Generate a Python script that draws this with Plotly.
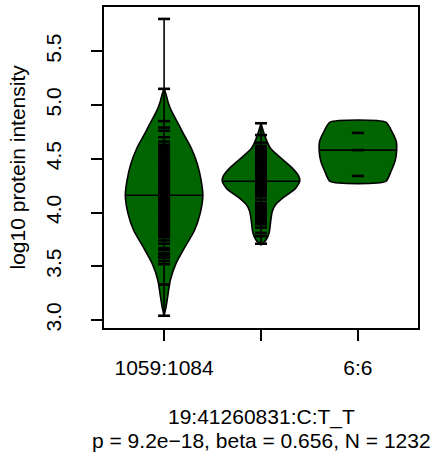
import numpy as np
import plotly.graph_objects as go

# groups (genotype counts); the middle label is dropped in the source plot
group_labels = ["1059:1084", "", "6:6"]
group_pos = [1, 2, 3]

# density outline of each bean: level (log10 intensity) and relative half-width
bean1_level = [5.156, 5.10, 5.03, 4.97, 4.91, 4.85, 4.76, 4.68, 4.60, 4.45, 4.29, 4.16,
               3.99, 3.83, 3.68, 3.52, 3.37, 3.21, 3.12, 3.04]
bean1_width = [0.0, 0.05, 0.10, 0.16, 0.24, 0.33, 0.46, 0.58, 0.70, 0.86, 0.96, 1.0,
               0.93, 0.78, 0.54, 0.30, 0.16, 0.09, 0.05, 0.0]

bean2_level = [4.83, 4.71, 4.60, 4.51, 4.42, 4.34, 4.29, 4.22, 4.14, 4.07, 4.01,
               3.92, 3.83, 3.78, 3.74, 3.70]
bean2_width = [0.0, 0.10, 0.24, 0.50, 0.79, 0.97, 1.0, 0.88, 0.58, 0.37, 0.29,
               0.25, 0.22, 0.18, 0.12, 0.0]

bean3_level = [4.84, 4.75, 4.66, 4.58, 4.48, 4.38, 4.29]
bean3_width = [0.72, 0.88, 0.99, 1.0, 0.96, 0.85, 0.72]

bean_median = [4.16, 4.29, 4.58]

# individual observations (bean lines)
obs1 = [5.80, 5.15, 4.85, 4.79, 4.76, 4.70, 4.66, 4.63, 4.61, 4.59, 4.57, 4.55,
        4.53, 4.52, 4.50, 4.49, 4.48, 4.46, 4.45, 4.44, 4.43, 4.41, 4.40, 4.39, 4.38,
        4.36, 4.35, 4.34, 4.33, 4.31, 4.30, 4.29, 4.28, 4.27, 4.25, 4.24, 4.23, 4.22,
        4.21, 4.19, 4.18, 4.17, 4.16, 4.15, 4.13, 4.12, 4.11, 4.10, 4.09, 4.07, 4.06,
        4.05, 4.04, 4.03, 4.01, 4.00, 3.99, 3.98, 3.96, 3.95, 3.94, 3.93, 3.91, 3.90,
        3.89, 3.88, 3.86, 3.85, 3.84, 3.83, 3.81, 3.80, 3.79, 3.78, 3.77,
        3.74, 3.71, 3.67, 3.65, 3.62, 3.60, 3.58, 3.55, 3.52, 3.33, 3.04]
obs2 = [4.83, 4.72, 4.65, 4.62, 4.60, 4.58, 4.56, 4.54, 4.53, 4.51, 4.50, 4.48, 4.47,
        4.45, 4.44, 4.42, 4.41, 4.39, 4.38, 4.36, 4.35, 4.33, 4.32, 4.30, 4.29, 4.27,
        4.26, 4.24, 4.23, 4.21, 4.20, 4.18, 4.17, 4.15, 4.12, 4.09, 4.07, 4.05, 4.03,
        4.01, 3.99, 3.97, 3.95, 3.93, 3.91, 3.89, 3.86, 3.81, 3.78, 3.71]
obs3 = [4.74, 4.58, 4.34]

ytick_vals = [3.0, 3.5, 4.0, 4.5, 5.0, 5.5]
y_title = "log10 protein intensity"
x_title = "19:41260831:C:T_T"
x_sub = "p = 9.2e\u221218, beta = 0.656, N = 1232"

FONT = "Liberation Sans, Arial, sans-serif"
GREEN = "#006400"
HALF = 0.4      # max half-width of a bean
TICK = 0.062    # half-length of an observation line

levels = [bean1_level, bean2_level, bean3_level]
widths = [bean1_width, bean2_width, bean3_width]
obs = [obs1, obs2, obs3]
with_stem = [True, True, False]

fig = go.Figure()
for c, lv, wd, ob, med, stem in zip(group_pos, levels, widths, obs, bean_median, with_stem):
    lv = np.array(lv)
    wd = np.array(wd) * HALF
    xs = np.concatenate([c + wd, (c - wd)[::-1], [c + wd[0]]])
    ys = np.concatenate([lv, lv[::-1], [lv[0]]])
    fig.add_trace(go.Scatter(x=xs, y=ys, mode="lines", fill="toself", fillcolor=GREEN,
                             line=dict(color="black", width=1.6, shape="spline", smoothing=0.6),
                             hoverinfo="skip", showlegend=False))
    if stem:
        fig.add_trace(go.Scatter(x=[c, c], y=[min(ob), max(ob)], mode="lines",
                                 line=dict(color="black", width=1.6),
                                 hoverinfo="skip", showlegend=False))
    lx, ly = [], []
    for v in ob:
        lx += [c - TICK, c + TICK, None]
        ly += [v, v, None]
    fig.add_trace(go.Scatter(x=lx, y=ly, mode="lines",
                             line=dict(color="black", width=2.6, simplify=False),
                             hoverinfo="skip", showlegend=False))
    mw = np.interp(med, lv[::-1], wd[::-1])
    fig.add_trace(go.Scatter(x=[c - mw, c + mw], y=[med, med], mode="lines",
                             line=dict(color="black", width=1.6),
                             hoverinfo="skip", showlegend=False))

axis_common = dict(showline=True, linecolor="black", linewidth=1.6, mirror=True,
                   ticks="outside", ticklen=11, tickwidth=1.5, tickcolor="black",
                   showgrid=False, zeroline=False,
                   tickfont=dict(family=FONT, size=21, color="black"))
fig.update_xaxes(range=[0.38, 3.62], tickvals=group_pos, ticktext=group_labels,
                 ticklabelstandoff=9, **axis_common)
fig.update_yaxes(range=[2.926, 5.911], tickvals=ytick_vals,
                 ticktext=[f"{v:.1f}" for v in ytick_vals], tickangle=-90,
                 ticklabelstandoff=22, **axis_common)

fig.add_annotation(text=y_title, xref="paper", yref="paper", x=0, y=0.5, xshift=-87,
                   textangle=-90, showarrow=False, xanchor="center", yanchor="middle",
                   font=dict(family=FONT, size=21, color="black"))
fig.add_annotation(text=x_title, xref="paper", yref="paper", x=0.5, y=0, yshift=-89,
                   showarrow=False, xanchor="center", yanchor="middle",
                   font=dict(family=FONT, size=21, color="black"))
fig.add_annotation(text=x_sub, xref="paper", yref="paper", x=0.5, y=0, yshift=-112,
                   showarrow=False, xanchor="center", yanchor="middle",
                   font=dict(family=FONT, size=21, color="black"))

fig.update_layout(width=438, height=460, margin=dict(l=104, r=20, t=5, b=132),
                  plot_bgcolor="white", paper_bgcolor="white", showlegend=False)
fig.write_html("out.html", config={"displayModeBar": False},
               post_script="document.body.style.margin='0';")
